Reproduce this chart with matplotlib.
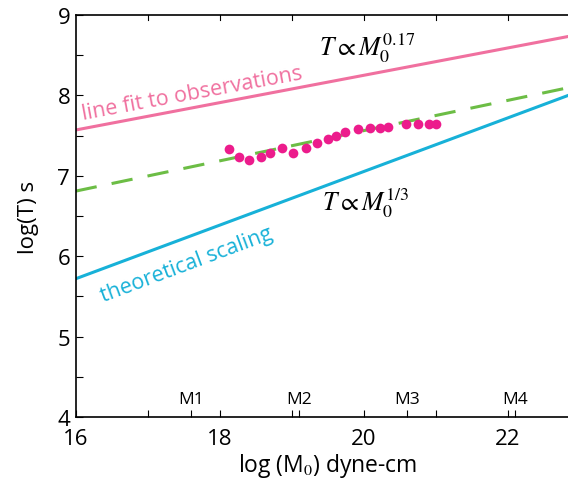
import numpy as np
import matplotlib
matplotlib.use('Agg')
import matplotlib.pyplot as plt

plt.rcParams['font.family'] = ['Open Sans', 'DejaVu Sans']
plt.rcParams['mathtext.fontset'] = 'stix'

# observed points: log(M0), log(T)
obs_m0 = [18.13, 18.27, 18.40, 18.57, 18.70, 18.87, 19.02, 19.20, 19.35, 19.51,
          19.62, 19.74, 19.92, 20.09, 20.22, 20.34, 20.59, 20.75, 20.90, 21.01]
obs_t = [7.33, 7.24, 7.20, 7.24, 7.28, 7.34, 7.28, 7.35, 7.41, 7.46,
         7.49, 7.54, 7.58, 7.60, 7.60, 7.61, 7.64, 7.65, 7.65, 7.65]

# lines: intercept at log(M0)=16 and slope
fit_line = (7.57, 0.17)      # line fit to observations (shifted)
data_fit = (6.81, 0.188)     # dashed fit through the dots
theory_line = (5.72, 1 / 3)  # theoretical scaling

mag_pos = [17.6, 19.1, 20.6, 22.1]
mag_labels = ['M1', 'M2', 'M3', 'M4']

pink = '#F0709F'
blue = '#17B1D8'
green = '#6CBD45'
dot = '#EC1C8C'

fig = plt.figure(figsize=(5.68, 4.85), dpi=100)
ax = fig.add_axes([0.1333, 0.138, 0.8873, 0.829])

xx = np.array([16, 23])
ax.plot(xx, fit_line[0] + fit_line[1] * (xx - 16), color=pink, lw=2.2)
ax.plot(xx, data_fit[0] + data_fit[1] * (xx - 16), color=green, lw=2.2,
        dashes=(7, 5))
ax.plot(xx, theory_line[0] + theory_line[1] * (xx - 16), color=blue, lw=2.2)
ax.plot(obs_m0, obs_t, 'o', color=dot, ms=7, mec='none')

ax.text(16.1, 7.71, 'line fit to observations', color=pink, fontsize=15.5,
        rotation=10.5, rotation_mode='anchor', ha='left', va='baseline')
ax.text(16.38, 5.44, 'theoretical scaling', color=blue, fontsize=15.5,
        rotation=20.5, rotation_mode='anchor', ha='left', va='baseline')
ax.text(19.38, 8.51, r'$T \propto M_0^{0.17}$', fontsize=18.5, ha='left', va='baseline')
ax.text(19.42, 6.58, r'$T \propto M_0^{1/3}$', fontsize=18.5, ha='left', va='baseline')

for p, lab in zip(mag_pos, mag_labels):
    ax.text(p, 4.12, lab, fontsize=12.5, ha='center', va='bottom')

ax.set_xlim(16, 23)
ax.set_ylim(4, 9)
ax.set_xticks([16, 18, 20, 22])
ax.set_xticks([17, 19, 21] + mag_pos, minor=True)
ax.set_yticks([4, 5, 6, 7, 8, 9])
ax.set_yticks(np.arange(4.5, 9, 1.0), minor=True)
ax.tick_params(which='both', direction='in', length=5, width=0.8, top=False, right=True)
ax.tick_params(axis='y', labelsize=16, pad=4)
ax.tick_params(axis='x', labelsize=16, pad=8)
for s in ax.spines.values():
    s.set_linewidth(1.2)

# ticks on top edge at every unit
for t in range(17, 23):
    ax.plot([t, t], [9, 8.94], color='k', lw=0.8, clip_on=False)

ax.set_xlabel(r'log (M$_0$) dyne-cm', fontsize=16.5, labelpad=1)
ax.set_ylabel('log(T) s', fontsize=16, labelpad=13)

fig.savefig('out.png', dpi=100)
